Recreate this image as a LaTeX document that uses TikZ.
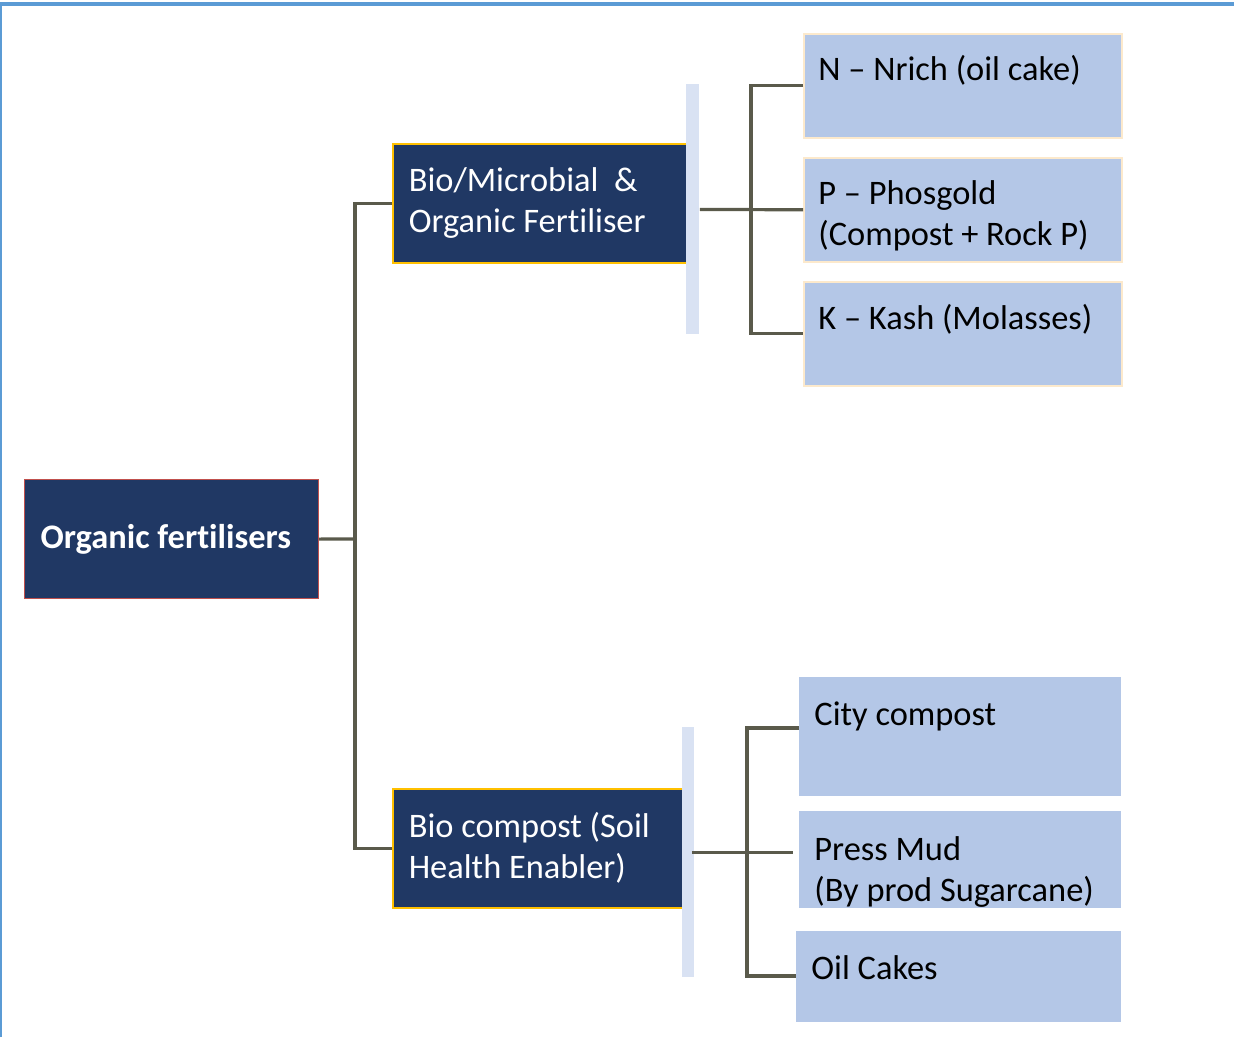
\documentclass[tikz,border=0pt]{standalone}
\usepackage{fontspec}
\setmainfont{Carlito}[Ligatures=NoCommon]
\usetikzlibrary{positioning, calc}

\definecolor{navy}{HTML}{203864}
\definecolor{rootedge}{HTML}{C0504D}
\definecolor{midedge}{HTML}{FFC000}
\definecolor{barfill}{HTML}{D9E2F3}
\definecolor{leaffill}{HTML}{B4C7E7}
\definecolor{leafedge}{HTML}{FCE9CC}
\definecolor{linkgray}{HTML}{5A5A4B}
\definecolor{frameblue}{HTML}{5B9BD5}

\begin{document}
\begin{tikzpicture}[
    x=0.5pt, y=-0.5pt,
    txt/.style={font=\fontsize{17.2}{20.5}\selectfont},
    root/.style={rectangle, draw=rootedge, line width=0.6pt, fill=navy,
        anchor=north west, text=white, align=flush left, text width=131pt,
        inner xsep=8pt, minimum width=147pt, minimum height=59.5pt,
        font=\fontsize{17.2}{20.5}\selectfont\bfseries},
    mid/.style={rectangle, draw=midedge, line width=0.8pt, fill=navy,
        anchor=north west, text=white, align=flush left, text width=129pt,
        inner xsep=8pt, minimum width=145pt, minimum height=59.5pt, txt},
    bar/.style={rectangle, fill=barfill, anchor=north west, inner sep=0pt,
        minimum width=6.5pt, minimum height=125pt},
    leaf/.style={rectangle, fill=leaffill, anchor=north west, inner sep=0pt},
    leaftxt/.style={anchor=base west, inner sep=0pt, align=left, txt},
    link/.style={draw=linkgray, line width=1.6pt}
]
\useasboundingbox (0,0) rectangle (1234,1037);

%% Frame
\draw[frameblue, line width=0.8pt] (1,1037) -- (1,4);
\draw[frameblue, line width=2pt] (0,4) -- (1234,4);

%% Root and middle level
\node[root] (org) at (24,479) {Organic fertilisers};
\node[mid, minimum width=147pt, text width=131pt] (biomic) at (392,143)
    {Bio/Microbial\ \ \&\\Organic Fertiliser};
\node[mid] (biocomp) at (392,788) {Bio compost (Soil\\Health Enabler)};

%% Light bars
\node[bar] (bara) at (686,84) {};
\node[bar, minimum width=6pt] (barb) at (682,727) {};

%% Upper leaves
\node[leaf, draw=leafedge, line width=0.8pt, minimum width=159pt, minimum height=52pt]
    (nrich) at (803,33) {};
\node[leaf, draw=leafedge, line width=0.8pt, minimum width=159pt, minimum height=52pt]
    (phos) at (803,157) {};
\node[leaf, draw=leafedge, line width=0.8pt, minimum width=159pt, minimum height=52pt]
    (kash) at (803,281) {};
\node[leaftxt] (nrichtxt) at (818,81) {N -- Nrich (oil cake)};
\node[leaftxt] (phostxt)  at (818,246) {P -- Phosgold\\(Compost + Rock P)};
\node[leaftxt] (kashtxt)  at (818,329) {K -- Kash (Molasses)};

%% Lower leaves
\node[leaf, minimum width=161pt, minimum height=59.5pt] (city)  at (799,677) {};
\node[leaf, minimum width=161pt, minimum height=48.5pt] (press) at (799,811) {};
\node[leaf, minimum width=162.5pt, minimum height=45.5pt] (oil)  at (796,931) {};
\node[leaftxt] (citytxt)  at (814,725) {City compost};
\node[leaftxt] (presstxt) at (814,901) {Press Mud\\(By prod Sugarcane)};
\node[leaftxt] (oiltxt)   at (811,979) {Oil Cakes};

%% Root -> middle
\coordinate (ja) at (355,539);
\draw[link] (org.east) -- (ja);
\draw[link] (biomic.west) -| (ja) |- (biocomp.west);

%% Upper branch
\coordinate (jb) at (751,209);
\draw[link] (bara.east) -- (phos.west);
\draw[link] (nrich.west) -| (jb) |- (kash.west);

%% Lower branch
\coordinate (jc) at (747,852);
\coordinate (jctop) at (747,728);
\coordinate (jcbot) at (747,976);
\draw[link] ([xshift=-1.5pt]barb.east) -- ([xshift=-3pt]barb.east -| press.west);
\draw[link] (jctop -| city.west) -| (jcbot) -- (jcbot -| oil.west);

\end{tikzpicture}
\end{document}
